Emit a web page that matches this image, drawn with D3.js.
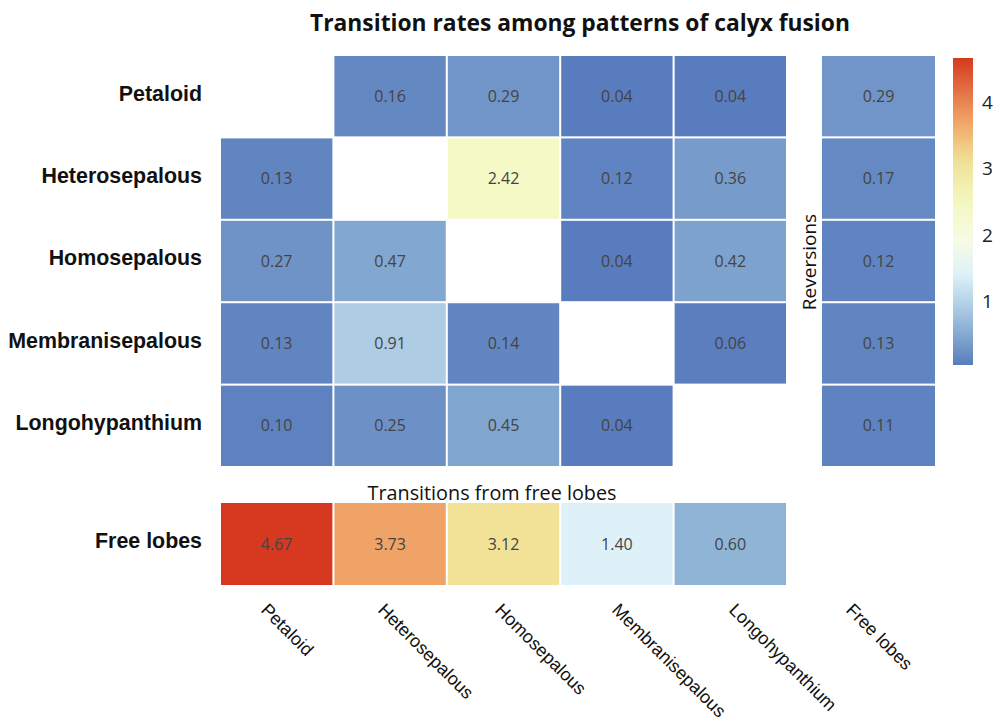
<!DOCTYPE html>
<html>
<head>
<meta charset="utf-8">
<script src="https://cdn.jsdelivr.net/npm/d3@7"></script>
<style>
  body { margin: 0; background: #fff; }
  svg text { font-family: "Open Sans", sans-serif; }
</style>
</head>
<body>
<svg id="chart" width="1000" height="723"></svg>
<script>
// states of calyx fusion (rows = from, columns = to)
var states = ["Petaloid", "Heterosepalous", "Homosepalous", "Membranisepalous", "Longohypanthium"];

// transition rates between fused states, null on the diagonal
var rates = [
  [null, 0.16, 0.29, 0.04, 0.04],
  [0.13, null, 2.42, 0.12, 0.36],
  [0.27, 0.47, null, 0.04, 0.42],
  [0.13, 0.91, 0.14, null, 0.06],
  [0.10, 0.25, 0.45, 0.04, null]
];

// reversions: fused state -> free lobes
var reversions = [0.29, 0.17, 0.12, 0.13, 0.11];

// free lobes -> fused state
var fromFree = [4.67, 3.73, 3.12, 1.40, 0.60];

var colLabels = states.concat(["Free lobes"]);
var legendTicks = [1, 2, 3, 4];

// colour ramp (blue - yellow - red)
var colorStops = [0.04, 0.6, 1.4, 1.9, 2.42, 3.12, 3.73, 4.67];
var colorValues = ["#587cbd", "#8fb4d6", "#def1f8", "#f6fbe6", "#f4f9c5", "#f1e297", "#f0a366", "#d6391f"];

var svg = d3.select("#chart");

var color = d3.scaleLinear()
    .domain(colorStops)
    .range(colorValues)
    .interpolate(d3.interpolateRgb);

var x = d3.scaleBand().domain(states).range([221, 786]).paddingInner(0.018);
var y = d3.scaleBand().domain(states).range([56, 466]).paddingInner(0.025);
var xFree = d3.scaleBand().domain(["Free lobes"]).range([822, 935]);
var yFree = d3.scaleBand().domain(["Free lobes"]).range([503, 585]);

// title
svg.append("text")
    .attr("x", 580)
    .attr("y", 31)
    .attr("text-anchor", "middle")
    .style("font-size", "22.8px")
    .style("font-weight", "bold")
    .style("fill", "#111")
    .text("Transition rates among patterns of calyx fusion");

// main matrix cells
var cells = [];
rates.forEach(function (row, i) {
  row.forEach(function (v, j) {
    if (v !== null) cells.push({from: states[i], to: states[j], value: v});
  });
});

function drawCells(data, xs, ys, xKey, yKey) {
  var g = svg.append("g");
  var cell = g.selectAll("g")
      .data(data)
      .enter()
      .append("g");
  cell.append("rect")
      .attr("x", function (d) { return xs(d[xKey]); })
      .attr("y", function (d) { return ys(d[yKey]); })
      .attr("width", xs.bandwidth())
      .attr("height", ys.bandwidth())
      .style("fill", function (d) { return color(d.value); });
  cell.append("text")
      .attr("x", function (d) { return xs(d[xKey]) + xs.bandwidth() / 2; })
      .attr("y", function (d) { return ys(d[yKey]) + ys.bandwidth() / 2; })
      .attr("dy", "0.35em")
      .attr("text-anchor", "middle")
      .style("font-size", "16px")
      .style("fill", "#444")
      .text(function (d) { return d.value.toFixed(2); });
}

drawCells(cells, x, y, "to", "from");

// reversions column
drawCells(reversions.map(function (v, i) {
  return {from: states[i], to: "Free lobes", value: v};
}), xFree, y, "to", "from");

// transitions from free lobes row
drawCells(fromFree.map(function (v, j) {
  return {from: "Free lobes", to: states[j], value: v};
}), x, yFree, "to", "from");

// row labels
var rowLabelStyle = function (sel) {
  sel.attr("x", 202)
     .attr("dy", "0.35em")
     .attr("text-anchor", "end")
     .style("font-family", "'Liberation Sans', Arial, sans-serif")
     .style("font-weight", "bold")
     .style("font-size", "21.4px")
     .style("fill", "#111");
};

svg.append("g").selectAll("text")
    .data(states)
    .enter()
    .append("text")
    .attr("y", function (d) { return y(d) + y.bandwidth() / 2 - 3; })
    .call(rowLabelStyle)
    .text(function (d) { return d; });

svg.append("text")
    .attr("y", yFree("Free lobes") + yFree.bandwidth() / 2 - 3)
    .call(rowLabelStyle)
    .text("Free lobes");

// section labels
svg.append("text")
    .attr("x", 492)
    .attr("y", 500)
    .attr("text-anchor", "middle")
    .style("font-size", "19.8px")
    .style("fill", "#111")
    .text("Transitions from free lobes");

svg.append("text")
    .attr("transform", "translate(816,262) rotate(-90)")
    .attr("text-anchor", "middle")
    .style("font-size", "19px")
    .style("fill", "#111")
    .text("Reversions");

// rotated column labels
var xLab = d3.scalePoint().domain(colLabels).range([260, 845]);
svg.append("g").selectAll("text")
    .data(colLabels)
    .enter()
    .append("text")
    .attr("transform", function (d) { return "translate(" + xLab(d) + ",611) rotate(45)"; })
    .attr("text-anchor", "start")
    .style("font-family", "'Liberation Sans', Arial, sans-serif")
    .style("font-size", "18px")
    .style("fill", "#111")
    .text(function (d) { return d; });

// colour bar
var legY = d3.scaleLinear().domain([0.04, 4.67]).range([365, 58]);
var defs = svg.append("defs");
var grad = defs.append("linearGradient")
    .attr("id", "legendGrad")
    .attr("x1", "0").attr("y1", "1")
    .attr("x2", "0").attr("y2", "0");
d3.range(0, 1.0001, 0.05).forEach(function (t) {
  var v = 0.04 + t * (4.67 - 0.04);
  grad.append("stop")
      .attr("offset", t)
      .attr("stop-color", color(v));
});

svg.append("rect")
    .attr("x", 953)
    .attr("y", legY(4.67))
    .attr("width", 20)
    .attr("height", legY(0.04) - legY(4.67))
    .style("fill", "url(#legendGrad)");

var legAxis = d3.axisRight(legY)
    .tickValues(legendTicks)
    .tickFormat(d3.format("d"))
    .tickSize(0)
    .tickPadding(9);
var la = svg.append("g")
    .attr("transform", "translate(973,0)")
    .call(legAxis);
la.select(".domain").remove();
la.selectAll("text")
    .style("font-family", "'Open Sans', sans-serif")
    .style("font-size", "19px")
    .style("fill", "#222");
</script>
</body>
</html>
